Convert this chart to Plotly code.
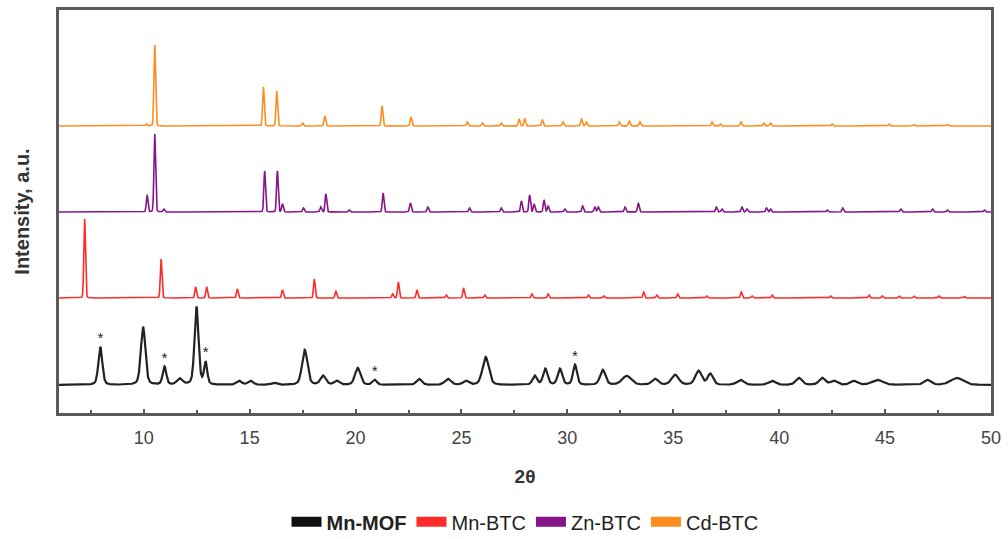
import numpy as np
import plotly.graph_objects as go

# Diffraction angle grid (2θ, degrees)
two_theta = np.round(np.arange(6.0, 50.0001, 0.01), 3)

# Peak lists: position (2θ), height (a.u.)
mn_mof_pos = [7.95, 9.97, 10.98, 11.7, 12.49, 12.92, 14.5, 15.05, 16.15, 17.6, 18.47, 19.12,
              20.1, 20.9, 23.0, 24.36, 25.2, 26.14, 28.46, 28.96, 29.65, 30.36, 31.67, 32.8,
              34.14, 35.09, 36.19, 36.75, 38.17, 39.67, 40.93, 42.03, 42.58, 43.53, 44.64,
              47.0, 48.39]
mn_mof_h = [38, 58, 18, 6, 78, 22, 4, 4, 2, 35, 9, 4,
            17, 5, 6, 6, 4, 28, 9, 16, 16, 20, 15, 9,
            6, 10, 14, 11, 5, 4, 7, 7, 4, 4, 5,
            5, 7]
mn_mof_w = [0.22, 0.25, 0.2, 0.3, 0.22, 0.18, 0.3, 0.3, 0.3, 0.3, 0.3, 0.3,
            0.3, 0.25, 0.3, 0.35, 0.3, 0.35, 0.25, 0.25, 0.25, 0.22, 0.3, 0.5,
            0.35, 0.4, 0.35, 0.3, 0.4, 0.4, 0.35, 0.35, 0.35, 0.4, 0.6,
            0.4, 0.7]
mn_mof_marked = [7.95, 10.98, 12.92, 20.9, 30.36]

mn_btc_pos = [7.21, 10.82, 12.45, 12.97, 14.42, 16.55, 18.05, 19.07, 21.75, 22.02, 22.9, 24.28,
              25.1, 26.1, 28.33, 29.09, 30.99, 31.73, 33.6, 34.22, 35.21, 36.59, 38.21, 38.72,
              39.67, 42.43, 44.24, 44.87, 45.66, 46.36, 47.55, 48.74]
mn_btc_h = [79, 39, 11, 11, 9, 8, 19, 7, 4, 16, 8, 3,
            10, 3, 4, 4, 3, 2, 6, 3, 4, 2, 6, 2,
            3, 2, 3, 2, 2, 2, 2, 1.5]

zn_btc_pos = [10.16, 10.52, 10.95, 15.71, 16.31, 16.55, 17.54, 18.36, 18.6, 19.7, 21.3, 22.59,
              23.41, 25.38, 26.88, 27.83, 28.22, 28.43, 28.9, 29.09, 29.88, 30.72, 31.3, 31.46,
              32.72, 33.35, 37.03, 37.3, 38.24, 38.48, 39.4, 39.59, 42.27, 43.0, 45.74, 47.24,
              47.95, 49.69]
zn_btc_h = [17, 78, 3, 41, 41, 8, 4, 5, 18, 2, 19, 9,
            5, 4, 4, 11, 17, 8, 12, 6, 3, 6, 5, 5,
            5, 9, 5, 3, 5, 3, 4, 3, 2, 4, 3, 3,
            2, 2]

cd_btc_pos = [10.13, 10.52, 15.65, 16.28, 17.5, 18.55, 21.25, 22.62, 25.28, 25.99, 26.88, 27.72,
              27.99, 28.82, 29.8, 30.67, 30.9, 32.45, 32.92, 33.43, 36.83, 37.22, 38.2, 39.27,
              39.59, 42.5, 45.19, 46.37, 47.95]
cd_btc_h = [2, 81, 39, 35, 3, 10, 20, 9, 4, 3, 3, 7,
            7, 6, 4, 7, 4, 4, 5, 4, 4, 2, 4, 3,
            3, 2, 2, 1.5, 1.5]

# Vertical stacking offsets of the patterns
offsets = {"Mn-MOF": 28, "Mn-BTC": 115, "Zn-BTC": 201, "Cd-BTC": 287}
colors = {"Mn-MOF": "#222222", "Mn-BTC": "#ff2a2a", "Zn-BTC": "#86158a", "Cd-BTC": "#ff8c1f"}


def profile(x, pos, h, w, eta):
    """Pseudo-Voigt sum of peaks with FWHM w."""
    y = np.zeros_like(x)
    for c, a, fw in zip(pos, h, w):
        g = np.exp(-4 * np.log(2) * ((x - c) / fw) ** 2)
        lo = 1.0 / (1.0 + 4 * ((x - c) / fw) ** 2)
        y += a * ((1 - eta) * g + eta * lo)
    return y


patterns = [
    ("Mn-MOF", profile(two_theta, mn_mof_pos, mn_mof_h, mn_mof_w, 0.35), 2.2),
    ("Mn-BTC", profile(two_theta, mn_btc_pos, mn_btc_h, [0.09] * len(mn_btc_pos), 0.1), 1.6),
    ("Zn-BTC", profile(two_theta, zn_btc_pos, zn_btc_h, [0.09] * len(zn_btc_pos), 0.1), 1.6),
    ("Cd-BTC", profile(two_theta, cd_btc_pos, cd_btc_h, [0.09] * len(cd_btc_pos), 0.1), 1.6),
]

fig = go.Figure()
for name, y, lw in patterns:
    fig.add_trace(go.Scatter(
        x=two_theta, y=y + offsets[name], mode="lines",
        line=dict(color=colors[name], width=lw),
        showlegend=False, hoverinfo="skip",
    ))

# Star markers above the selected Mn-MOF reflections
mof_profile = patterns[0][1]
star_y = [float(np.interp(p, two_theta, mof_profile)) + offsets["Mn-MOF"] for p in mn_mof_marked]
fig.add_trace(go.Scatter(
    x=mn_mof_marked, y=star_y, mode="text", text=["*"] * len(mn_mof_marked),
    textposition="top center",
    textfont=dict(family="Liberation Sans", size=15, color="#222222"),
    showlegend=False, hoverinfo="skip",
))

# Legend swatches
for name, _, _ in patterns:
    label = "<b>Mn-MOF</b>" if name == "Mn-MOF" else name
    fig.add_trace(go.Scatter(
        x=[None], y=[None], mode="lines", name=label,
        line=dict(color="#111111" if name == "Mn-MOF" else colors[name], width=10),
    ))

fig.update_layout(
    width=1008, height=539,
    margin=dict(l=59, r=17, t=10, b=126, autoexpand=False),
    paper_bgcolor="white", plot_bgcolor="white",
    font=dict(family="Liberation Sans", color="#333333"),
    legend=dict(
        orientation="h", x=0.5, xanchor="center", y=-0.27, yanchor="middle",
        font=dict(size=20, color="#222222"), itemwidth=30, tracegroupgap=0,
    ),
    showlegend=True,
)
fig.update_xaxes(
    range=[6, 50], showgrid=False, zeroline=False,
    showline=True, linecolor="#5a5a5a", linewidth=2.5, mirror=True,
    tickmode="array", tickvals=[10, 15, 20, 25, 30, 35, 40, 45, 50],
    ticks="inside", ticklen=4, tickcolor="#5a5a5a", tickwidth=1.5,
    minor=dict(tickvals=[7.5, 12.5, 17.5, 22.5, 27.5, 32.5, 37.5, 42.5, 47.5],
               ticks="inside", ticklen=3, tickcolor="#5a5a5a"),
    tickfont=dict(size=18, color="#444444"), ticklabelstandoff=7,
    title=dict(text="<b>2θ</b>", font=dict(size=19, color="#333333"), standoff=23),
)
fig.update_yaxes(
    range=[0, 403], showgrid=False, zeroline=False,
    showline=True, linecolor="#5a5a5a", linewidth=2.5, mirror=True,
    showticklabels=False, ticks="",
    title=dict(text="<b>Intensity, a.u.</b>", font=dict(size=20, color="#333333"), standoff=22),
)

fig.write_html("out.html")
